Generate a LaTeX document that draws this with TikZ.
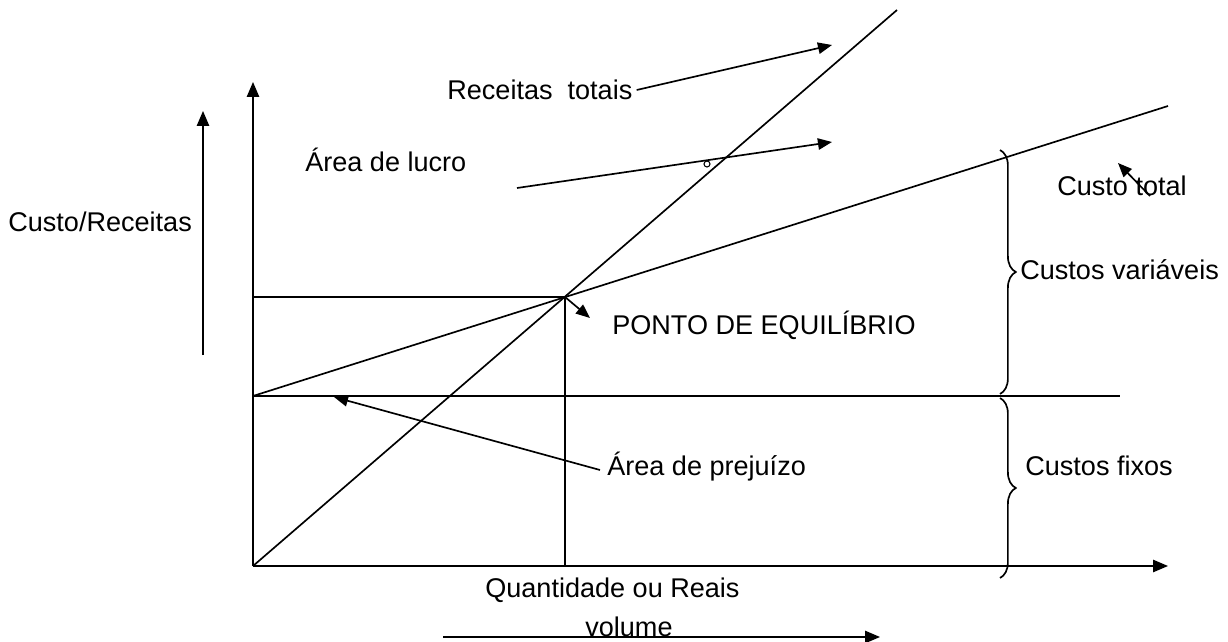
\documentclass[tikz,border=0pt]{standalone}
\usepackage{fontspec}
\setmainfont{Liberation Sans}
\usetikzlibrary{arrows.meta,decorations.pathreplacing}

\begin{document}
\begin{tikzpicture}[x=0.02cm,y=-0.02cm,line width=0.95pt]

        \useasboundingbox (0,0) rectangle (1228,642);

        % points of the chart
        \coordinate (O)     at (253,566);
        \coordinate (ytop)  at (253,82);
        \coordinate (xend)  at (1168,566);
        \coordinate (F)     at (253,396);
        \coordinate (Fend)  at (1120,396);
        \coordinate (E)     at (565,297);
        \coordinate (Ey)    at (253,297);
        \coordinate (Ex)    at (565,566);
        \coordinate (RTend) at (897,10);
        \coordinate (CTend) at (1168,106);

        \begin{scope}[every node/.style={anchor=west,font=\fontsize{15.4}{18}\selectfont,inner sep=2pt}]
          \node (rt) at (443,90)  {Receitas\ \ totais};
          \node (al) at (301,160) {Área de lucro};
          \node (ct) at (1053,186) {Custo total};
          \node (cv) at (1016,270) {Custos variáveis};
          \node (cf) at (1021,466) {Custos fixos};
          \node (ap) at (603,467) {Área de prejuízo};
          \node (pe) at (608,325) {PONTO DE EQUILÍBRIO};
          \node (cr) at (4,222)   {Custo/Receitas};
          \node (qr) at (481,590) {Quantidade ou Reais};
          \node (vo) at (581,627) {volume};
        \end{scope}

        % arrow ends
        \coordinate (rtTip)   at (832,45);
        \coordinate (alStart) at (517,188);
        \coordinate (alTip)   at (832,142);
        \coordinate (ctStart) at (1150,196);
        \coordinate (ctTip)   at (1118,163);
        \coordinate (apStart) at (600,470);
        \coordinate (apTip)   at (334,397);
        \coordinate (peTip)   at (590,318);
        \coordinate (crBot)   at (203,355);
        \coordinate (crTop)   at (203,111);
        \coordinate (voL)     at (443,637);
        \coordinate (voR)     at (880,637);

        % axes and lines
        \begin{scope}[every edge/.style={draw,-{Triangle[length=8.5pt,width=7pt]}}]
          \path (O)     edge (ytop);
          \path (O)     edge (xend);
          \path (crBot) edge (crTop);
          \path (voL)   edge (voR);
        \end{scope}

        \draw (O) -- (RTend);
        \draw (F) -- (CTend);
        \draw (F) -- (Fend);
        \draw (Ey) -- (E) -- (Ex);
        \draw[line width=0.6pt] (707,164) circle (3);

        \begin{scope}[every edge/.style={draw,-{Triangle[length=8pt,width=6.5pt]}}]
          \path (rt.east) edge (rtTip);
          \path (alStart) edge (alTip);
          \path (ctStart) edge (ctTip);
          \path (apStart) edge (apTip);
          \path (E)       edge (peTip);
        \end{scope}

        \begin{scope}[decoration={brace,amplitude=9pt}]
          \draw[decorate] (1000,150) -- (1000,394);
          \draw[decorate] (1000,398) -- (1000,578);
        \end{scope}

      \end{tikzpicture}
\end{document}
